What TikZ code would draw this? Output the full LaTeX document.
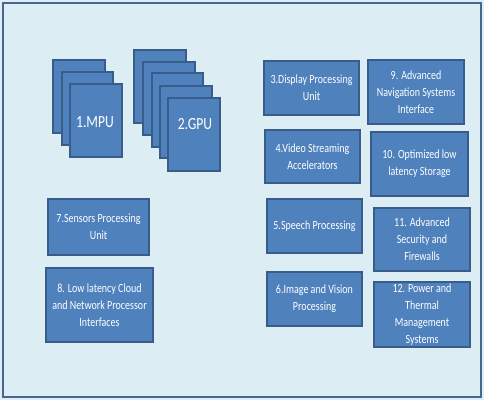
\documentclass[tikz,border=0pt]{standalone}
\usepackage{fontspec}
\newfontfamily\boxfont{Carlito}[FakeStretch=0.8]
\definecolor{bgblue}{RGB}{220,237,243}
\definecolor{frame}{RGB}{72,102,142}
\definecolor{boxfill}{RGB}{79,129,189}
\definecolor{boxline}{RGB}{56,93,138}
\begin{document}
\begin{tikzpicture}[x=1pt,y=-1pt,
  sheet/.style={draw=boxline,fill=boxfill,line width=1.3pt,inner sep=0pt},
  blk/.style={draw=boxline,fill=boxfill,line width=1.3pt,inner sep=1pt,
    text=white,align=center,font=\boxfont\fontsize{12.5}{17}\selectfont},
  biglabel/.style={text=white,font=\boxfont\fontsize{17}{20}\selectfont,inner sep=0pt}]
\useasboundingbox (0,0) rectangle (484,400);
\fill[bgblue] (0,0) rectangle (484,400);
\draw[frame,line width=2pt] (3,3) rectangle (481,397);
% MPU stack
\node[sheet,minimum width=52pt,minimum height=73pt] (m1) at (79,96.5) {};
\node[sheet,minimum width=51pt,minimum height=73pt] (m2) at (87.5,108.5) {};
\node[sheet,minimum width=52pt,minimum height=73pt] (m3) at (96,120.5) {};
\node[biglabel] (mpu) at (95,122) {1.MPU};
% GPU stack
\node[sheet,minimum width=52pt,minimum height=73pt] (g1) at (160,86.5) {};
\node[sheet,minimum width=52pt,minimum height=73pt] (g2) at (169,98.5) {};
\node[sheet,minimum width=51pt,minimum height=74pt] (g3) at (177.5,110) {};
\node[sheet,minimum width=52pt,minimum height=72pt] (g4) at (186,122) {};
\node[sheet,minimum width=52pt,minimum height=73pt] (g5) at (194,134.5) {};
\node[biglabel] (gpu) at (195,124) {2.GPU};
% right column blocks
\node[blk,minimum width=95pt,minimum height=54pt] (b3) at (311.5,88) {3.Display Processing\\Unit};
\node[blk,minimum width=95pt,minimum height=53pt] (b4) at (312.5,156.5) {4.Video Streaming\\Accelerators};
\node[blk,minimum width=95pt,minimum height=54pt] (b5) at (314.5,226) {5.Speech Processing};
\node[blk,minimum width=95pt,minimum height=54pt] (b6) at (314.5,299) {6.Image and Vision\\Processing};
\node[blk,minimum width=96pt,minimum height=64pt] (b9) at (416,92) {9. Advanced\\Navigation Systems\\Interface};
\node[blk,minimum width=97pt,minimum height=64pt] (b10) at (419.5,164) {10. Optimized low\\latency Storage};
\node[blk,minimum width=96pt,minimum height=63pt] (b11) at (422,239.5) {11. Advanced\\Security and\\Firewalls};
\node[blk,minimum width=96pt,minimum height=65pt] (b12) at (422,314.5) {12. Power and\\Thermal\\Management\\Systems};
% left blocks
\node[blk,minimum width=101pt,minimum height=56pt] (b7) at (98.5,227) {7.Sensors Processing\\Unit};
\node[blk,minimum width=107pt,minimum height=74pt] (b8) at (99.5,305) {8. Low latency Cloud\\and Network Processor\\Interfaces};
\end{tikzpicture}
\end{document}
